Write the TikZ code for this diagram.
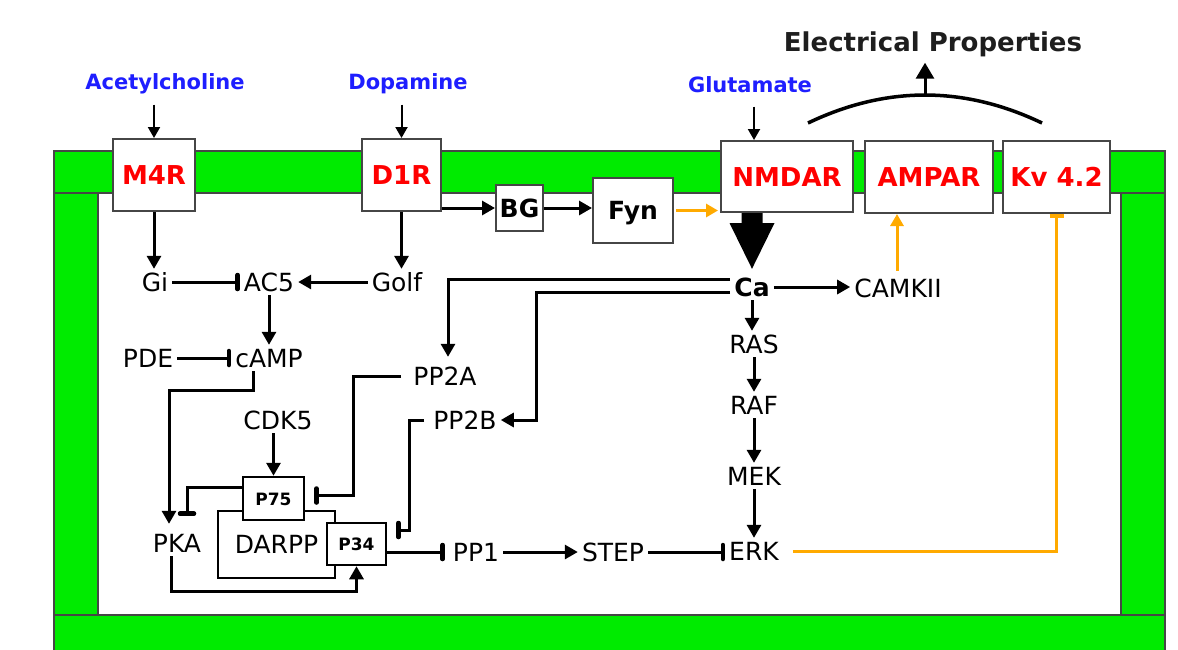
\documentclass[tikz,border=0pt]{standalone}
\usepackage{fontspec}
\setmainfont{DejaVu Sans}
\usetikzlibrary{arrows.meta,calc}
\definecolor{memgreen}{RGB}{0,235,0}
\definecolor{edgegray}{RGB}{70,70,70}
\definecolor{recred}{RGB}{255,0,0}
\definecolor{ntblue}{RGB}{30,30,255}
\definecolor{orng}{RGB}{255,170,0}
\begin{document}
\begin{tikzpicture}[x=1pt,y=-1pt,
 lbl/.style={font=\fontsize{25}{30}\selectfont, text height=18pt, text depth=0pt, inner sep=4pt},
 blbl/.style={font=\fontsize{25}{30}\selectfont\bfseries, text height=18pt, text depth=0pt, inner sep=4pt},
 ntx/.style={font=\fontsize{21}{25}\selectfont\bfseries, text=ntblue, text height=15pt, text depth=0pt, inner sep=4pt},
 recbox/.style={draw=edgegray, line width=2pt, fill=white, inner sep=0pt, text height=19pt, text depth=0pt, font=\fontsize{26}{30}\selectfont\bfseries, text=recred},
 sbox/.style={draw=edgegray, line width=2pt, fill=white, inner sep=0pt, text height=18pt, text depth=0pt, font=\fontsize{25}{30}\selectfont\bfseries},
 pbox/.style={draw=black, line width=2.5pt, fill=white, inner sep=0pt, text height=13pt, text depth=0pt, font=\fontsize{17}{20}\selectfont\bfseries},
 mem/.style={fill=memgreen, draw=edgegray, line width=1.5pt},
 arr/.style={line width=3pt, -{Triangle[length=13pt,width=14pt]}},
 tee/.style={line width=3pt, -{Bar[width=14pt,line width=4.5pt,round]}},
 thinarr/.style={line width=2pt, -{Triangle[length=11pt,width=12pt]}},
 oarr/.style={draw=orng, line width=3pt, -{Triangle[length=12pt,width=13pt]}},
 otee/.style={draw=orng, line width=3pt, -{Bar[width=14pt,line width=4pt]}},
]
\useasboundingbox (0,0) rectangle (1178,649);
\fill[white] (0,0) rectangle (1178,649);
% membrane
\draw[mem] (54,193) rectangle (98,615);
\draw[mem] (1121,193) rectangle (1165,615);
\draw[mem] (54,615) rectangle (1165,660);
\draw[mem] (54,151) rectangle (1165,193);

% neurotransmitters
\node[ntx] (ach) at (165,82) {Acetylcholine};
\node[ntx] (dop) at (408,82) {Dopamine};
\node[ntx] (glu) at (750,85) {Glutamate};
\node[font=\fontsize{26}{30}\selectfont\bfseries, text height=19pt, text depth=0pt, inner sep=4pt, text={rgb,255:red,30;green,30;blue,30}] (elec) at (933,42) {Electrical Properties};

% receptors
\node[recbox, minimum width=82pt, minimum height=72pt] (M4R) at (154,175) {M4R};
\node[recbox, minimum width=79pt, minimum height=72pt] (D1R) at (401.5,175) {D1R};
\node[recbox, minimum width=132pt, minimum height=71pt] (NMDAR) at (787,176.5) {NMDAR};
\node[recbox, minimum width=128pt, minimum height=72pt] (AMPAR) at (929,177) {AMPAR};
\node[recbox, minimum width=107pt, minimum height=72pt] (Kv) at (1056.5,177) {Kv 4.2};
\node[sbox, minimum width=47pt, minimum height=46pt] (BG) at (519.5,208) {BG};
\node[sbox, minimum width=80pt, minimum height=65pt] (Fyn) at (633,210.5) {Fyn};

% intracellular
\node[lbl] (Gi) at (155,282) {Gi};
\node[lbl] (AC5) at (269,282) {AC5};
\node[lbl] (Golf) at (397,282) {Golf};
\node[lbl] (PDE) at (148,358) {PDE};
\node[lbl] (cAMP) at (269,358) {cAMP};
\node[lbl] (PP2A) at (445,376) {PP2A};
\node[lbl] (PP2B) at (465,420) {PP2B};
\node[lbl] (CDK5) at (278,420) {CDK5};
\node[lbl] (PKA) at (177,543) {PKA};
\node[lbl] (PP1) at (476,552) {PP1};
\node[lbl] (STEP) at (613,552) {STEP};
\node[lbl] (ERK) at (754,551) {ERK};
\node[blbl] (Ca) at (752,287) {Ca};
\node[lbl] (CAMKII) at (898,288) {CAMKII};
\node[lbl] (RAS) at (754,344) {RAS};
\node[lbl] (RAF) at (754,405) {RAF};
\node[lbl] (MEK) at (754,476) {MEK};

\node[draw=black, line width=2.5pt, minimum width=117pt, minimum height=67pt, inner sep=0pt, font=\fontsize{25}{30}\selectfont, text height=18pt, text depth=0pt] (DARPP) at (276.5,544.5) {DARPP};
\node[pbox, minimum width=61pt, minimum height=43pt] (P75) at (273.5,498.5) {P75};
\node[pbox, minimum width=59pt, minimum height=42pt] (P34) at (356.5,544) {P34};

% transmitter arrows
\draw[thinarr] ($(ach.south -| M4R.north)+(0,11)$) -- (M4R.north);
\draw[thinarr] ($(dop.south -| D1R.north)+(0,11)$) -- (D1R.north);
\coordinate (gluin) at ($(glu.south)+(4,10)$);
\draw[thinarr] (gluin) -- (gluin |- NMDAR.north);

% electrical properties
\coordinate (arcL) at (808,123);
\coordinate (arcR) at (1042,123);
\coordinate (apex) at (925,95);
\draw[line width=3.5pt] (arcL) .. controls (886,85.7) and (964,85.7) .. (arcR);
\coordinate (elecin) at (apex |- elec.south);
\draw[line width=3pt, -{Triangle[length=16pt,width=18pt]}] (apex) -- ($(elecin)+(0,7)$);

% receptor to intracellular
\draw[arr] (M4R.south) -- (M4R.south |- Gi.north);
\draw[arr] (D1R.south) -- (D1R.south |- Golf.north);
\draw[arr] (D1R.south east |- BG.west) -- (BG.west);
\draw[arr] (BG.east) -- (BG.east -| Fyn.west);
\draw[oarr, shorten >=2pt] ($(Fyn.east)+(2,0)$) -- (Fyn.east -| NMDAR.west);

% big arrow NMDAR -> Ca
\coordinate (bigtop) at (Ca.north |- NMDAR.south);
\coordinate (bigtip) at ($(Ca.north)+(0,-5)$);
\fill ($(bigtop)+(-10.5,0)$) -- ++(21,0) -- ++(0,10) -- ++(12,0) -- (bigtip) -- ($(bigtop)+(-22.5,10)$) -- ++(12,0) -- cycle;

% cAMP pathway
\draw[tee] (Gi.east) -- (AC5.west);
\draw[arr] (Golf.west) -- (AC5.east);
\draw[arr] (AC5.south) -- (cAMP.north);
\draw[tee] (PDE.east) -- (cAMP.west);
\draw[arr] ($(cAMP.south)+(-16,0)$) -- ++(0,19) -| ($(PKA.north)+(-8,-6)$);
\draw[arr] (P75.north |- CDK5.south) -- (P75.north);
\draw[tee] ($(P75.west)+(0,-11)$) -| ($(PKA.north)+(10,-14)$);
\draw[arr] ($(PKA.south)+(-6,0)$) |- ($(P34.south)+(0,25)$) -- (P34.south);

% phosphatases
\draw[arr] ($(Ca.west)+(0,-8)$) -| ($(PP2A.north)+(3,-6)$);
\draw[arr] ($(Ca.west)+(0,5)$) -| ($(PP2B.east)+(36,0)$) -- (PP2B.east);
\draw[tee] ($(PP2A.west)+(-8,0)$) -| ($(P75.east)+(48,-3)$) -- ($(P75.east)+(9,-3)$);
\draw[tee] ($(PP2B.west)+(-5,0)$) -| ($(P34.east)+(22,-14)$) -- ($(P34.east)+(9,-14)$);
\draw[tee] (P34.east |- PP1.west) -- ($(PP1.west)+(-4,0)$);
\draw[arr] (PP1.east) -- (PP1.east -| STEP.west);
\draw[tee] (STEP.east) -- (STEP.east -| ERK.west);

% MAPK cascade
\draw[arr] (Ca.east) -- (Ca.east -| CAMKII.west);
\draw[arr] (Ca.south) -- (Ca.south |- RAS.north);
\draw[arr] (RAS.south) -- (RAF.north);
\draw[arr] (RAF.south) -- (MEK.north);
\draw[arr] (MEK.south) -- (ERK.north);

% orange feedback
\draw[oarr] ($(CAMKII.north)+(-1,-4)$) -- ($(CAMKII.north |- AMPAR.south)+(-1,0)$);
\draw[otee] ($(ERK.east)+(10,0)$) -| (Kv.south);
\end{tikzpicture}
\end{document}
